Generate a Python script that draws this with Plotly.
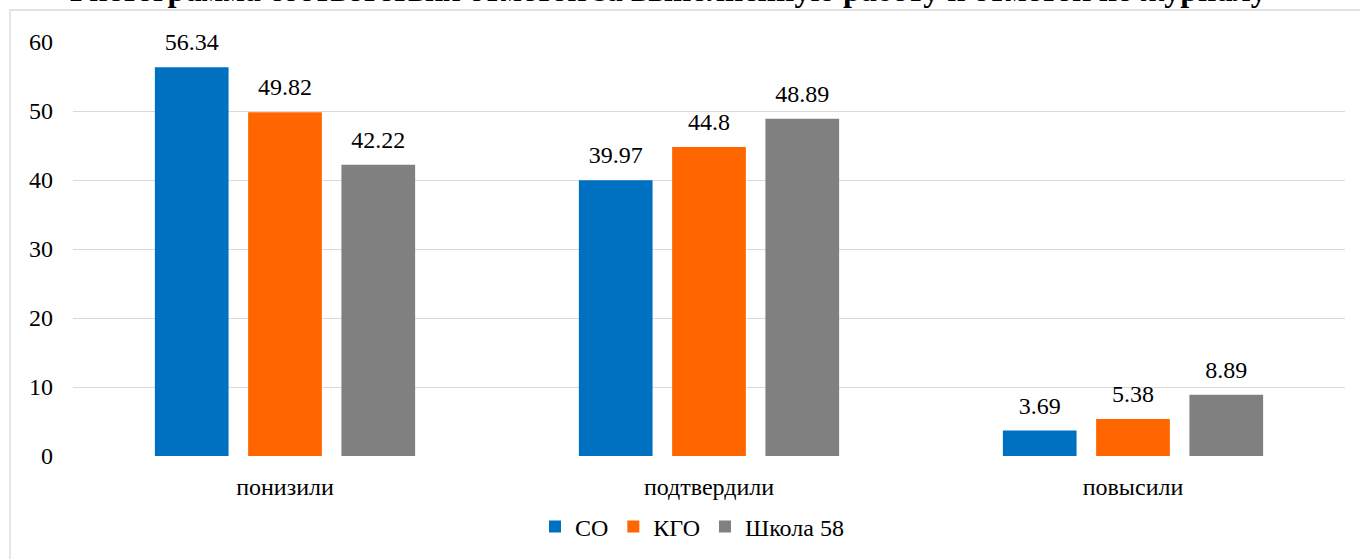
import plotly.graph_objects as go

categories = ["понизили", "подтвердили", "повысили"]
series_names = ["СО", "КГО", "Школа 58"]
so_values = [56.34, 39.97, 3.69]
kgo_values = [49.82, 44.8, 5.38]
school_values = [42.22, 48.89, 8.89]
colors = ["#0070C0", "#FF6600", "#808080"]
y_ticks = [0, 10, 20, 30, 40, 50, 60]
title_text = "Гистограмма соответствия отметок за выполненную работу и отметок по журналу"

FONT = "Liberation Serif"
BARGAP = 0.34

fig = go.Figure()
all_vals = [so_values, kgo_values, school_values]
for name, vals, col in zip(series_names, all_vals, colors):
    fig.add_trace(go.Bar(
        x=categories, y=vals, name=name,
        marker=dict(color=col, line=dict(width=0)),
    ))
# value labels, grouped the same way as the bars
for name, vals in zip(series_names, all_vals):
    fig.add_trace(go.Scatter(
        x=categories, y=vals, name=name + " labels", mode="markers+text",
        marker=dict(size=16, opacity=0),
        text=[str(v) for v in vals], textposition="top center",
        textfont=dict(family=FONT, size=24, color="#000000"),
        showlegend=False, hoverinfo="skip", cliponaxis=False,
    ))

fig.update_layout(
    width=1360, height=559,
    margin=dict(l=73, r=15, t=42, b=103, autoexpand=False),
    paper_bgcolor="white", plot_bgcolor="white",
    barmode="group", bargap=BARGAP, bargroupgap=0.21,
    scattermode="group", scattergap=BARGAP,
    font=dict(family=FONT, size=24, color="#000000"),
    showlegend=True,
    legend=dict(orientation="h", xref="container", yref="container",
                x=692 / 1360, xanchor="center", y=(559 - 527) / 559, yanchor="middle",
                font=dict(family=FONT, size=24, color="#000000"),
                traceorder="normal"),
    xaxis=dict(showgrid=False, showline=False, ticks="",
               tickfont=dict(family=FONT, size=24, color="#000000"),
               ticklabelstandoff=14),
    yaxis=dict(range=[0, 60], tickvals=y_ticks, showgrid=True, gridcolor="#d9d9d9",
               gridwidth=1.3, zeroline=False, showline=False, ticks="",
               tickfont=dict(family=FONT, size=24, color="#000000"), ticklabelstandoff=19),
)

fig.add_shape(type="rect", xref="paper", yref="paper",
              x0=(10 - 73) / 1272, x1=1.05, y0=-0.4, y1=(456 - 10) / 414,
              line=dict(color="#d9d9d9", width=1.3), fillcolor="rgba(0,0,0,0)", layer="below")

fig.add_annotation(text="<b>" + title_text + "</b>", xref="paper", yref="paper",
                   x=(668 - 73) / 1272, y=(456 - 10) / 414, xanchor="center", yanchor="bottom",
                   showarrow=False, font=dict(family=FONT, size=32, color="#000000"))

fig.write_html("out.html", config={"displayModeBar": False},
               post_script="document.body.style.margin='0';")
